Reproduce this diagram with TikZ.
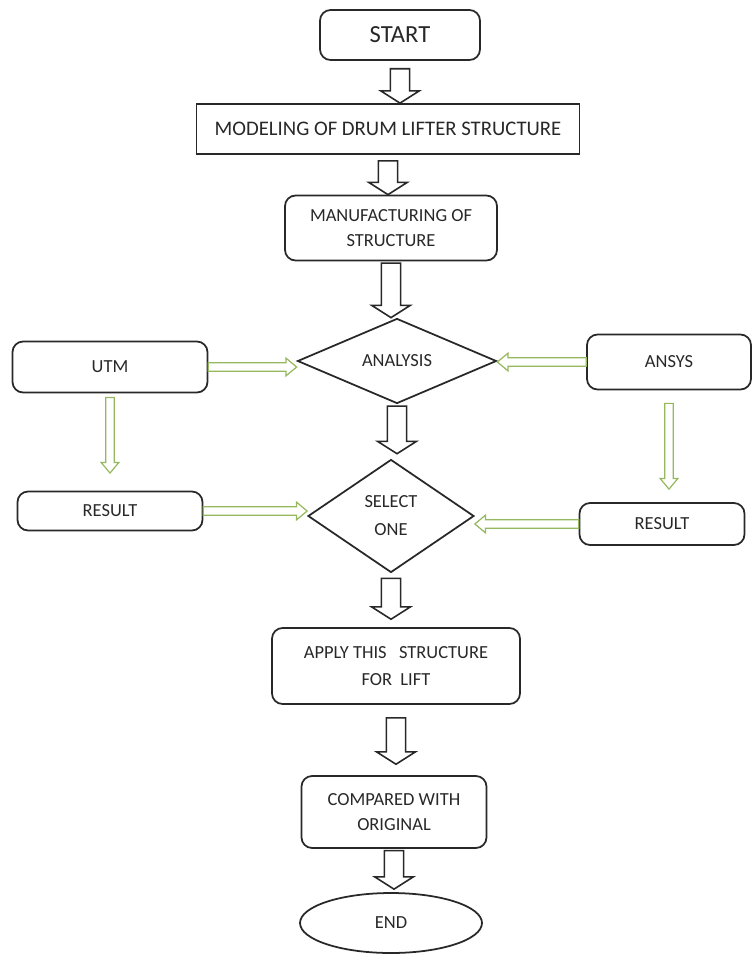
\documentclass[tikz,border=0pt]{standalone}
\usepackage{fontspec}
\setmainfont{Carlito}
\usetikzlibrary{shapes.geometric,calc}
\definecolor{ink}{RGB}{40,40,40}
\definecolor{lgreen}{RGB}{150,185,95}
\tikzset{box/.style={draw=ink, line width=1pt, rounded corners=6pt, text=ink, align=center,
    inner sep=2pt, font=\fontsize{10.5}{14}\selectfont},
  dmd/.style={box, diamond, rounded corners=0pt, aspect=2.3, inner sep=0pt},
  fat/.style n args={3}{to path={let \p1=(\tikztostart), \p2=(\tikztotarget),
      \n1={atan2(\y2-\y1,\x2-\x1)}, \n2={veclen(\x2-\x1,\y2-\y1)} in
      {[shift={(\p1)},rotate=\n1] (0pt,-#1) -- ({\n2-#3},-#1) -- ({\n2-#3},-#2) -- ({\n2-0pt},0pt)
      -- ({\n2-#3},#2) -- ({\n2-#3},#1) -- (0pt,#1) -- cycle}}},
  blk/.style={draw=ink, line width=0.9pt, fill=white, fat={5.5pt}{11pt}{7pt}},
  grn/.style={draw=lgreen, line width=0.7pt, fill=white, fat={2.4pt}{5pt}{6pt}}}

\begin{document}
\begin{tikzpicture}[x=0.02cm,y=-0.02cm]
\useasboundingbox (0,0) rectangle (752,961);
% main column
\node[box, minimum width=3.2cm, minimum height=1cm, font=\fontsize{14}{16}\selectfont] (start) at (400,35) {START};
\node[box, rounded corners=0pt, minimum width=7.66cm, minimum height=1cm, font=\fontsize{11.8}{14}\selectfont] (model) at (388,129) {MODELING OF DRUM LIFTER STRUCTURE};
\node[box, minimum width=4.24cm, minimum height=1.3cm] (manuf) at (391,228) {MANUFACTURING OF\\STRUCTURE};
\node[dmd, minimum width=3.98cm, minimum height=1.7cm] (analysis) at (397,361) {ANALYSIS};
\node[dmd, minimum width=3.32cm, minimum height=2.26cm, font=\fontsize{10.5}{16}\selectfont] (select) at (391,516) {SELECT\\ONE};
\node[box, minimum width=4.96cm, minimum height=1.52cm, font=\fontsize{10.5}{15}\selectfont] (apply) at (396,666) {APPLY THIS\ \ \ STRUCTURE\\FOR\ \ LIFT};
\node[box, minimum width=3.7cm, minimum height=1.44cm] (compared) at (394,812) {COMPARED WITH\\ORIGINAL};
\node[box, ellipse, minimum width=3.64cm, minimum height=1.2cm] (end) at (391,923) {END};
% side columns
\node[box, minimum width=3.9cm, minimum height=1.02cm] (utm) at (110,367) {UTM};
\node[box, minimum width=3.7cm, minimum height=0.78cm] (resl) at (110,511) {RESULT};
\node[box, minimum width=3.28cm, minimum height=1.1cm] (ansys) at (669,362) {ANSYS};
\node[box, minimum width=3.3cm, minimum height=0.84cm] (resr) at (662,524) {RESULT};

% arrows, with the gaps left at both ends
\foreach \a/\b/\g/\h in {start/model/4.5/0,model/manuf/3.4/0,manuf/analysis/1/0,analysis/select/1/2.8,
    select/apply/2.8/4.5,apply/compared/7.4/6.2,compared/end/1/1.7}{
  \draw[blk] ([yshift=-\g pt]\a.south) to ([yshift=\h pt]\a.south |- \b.north);
}
\foreach \a/\b/\g/\h in {utm/resl/2.3/10,ansys/resr/7.4/7.4}{
  \draw[grn] ([yshift=-\g pt]\a.south) to ([yshift=\h pt]\a.south |- \b.north);
}
\draw[grn] (utm.east) to (utm.east -| analysis.west);
\draw[grn] (ansys.west) to (ansys.west -| analysis.east);
\draw[grn] (resl.east) to (resl.east -| select.west);
\draw[grn] (resr.west) to (resr.west -| select.east);
\end{tikzpicture}
\end{document}
